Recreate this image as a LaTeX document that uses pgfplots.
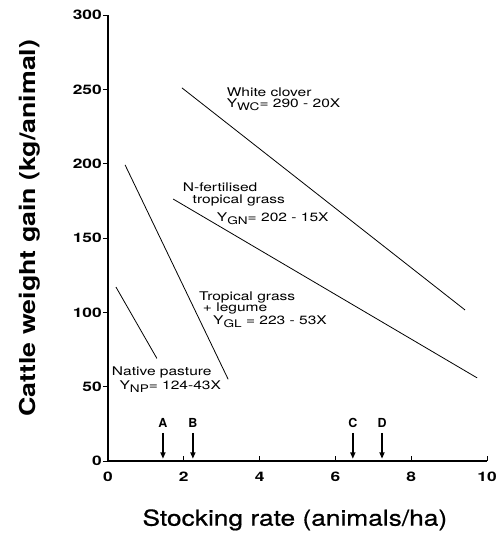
\documentclass[border=0pt]{standalone}
\usepackage{fontspec}
\setmainfont{TeX Gyre Heros}
\newfontfamily\tickfont[FakeStretch=1.32]{TeX Gyre Heros}
\newfontfamily\annfont[FakeStretch=1.3]{TeX Gyre Heros}
\newfontfamily\labfont[FakeStretch=1.22]{TeX Gyre Heros}
\newfontfamily\xlabfont[FakeStretch=1.2, FakeBold=0.7]{TeX Gyre Heros}
\usepackage{pgfplots}
\pgfplotsset{compat=1.18}
\usetikzlibrary{arrows.meta}

\newcommand{\sub}[1]{\raisebox{-3bp}{\fontsize{10.5}{10.5}\selectfont #1}}

\pgfplotsset{
  fitline/.style={black, no marks, line width=0.8bp},
  rate/.style={black, no marks, line width=1.6bp, -{Triangle[length=6.5bp,width=5bp]}},
}

\begin{document}
\begin{tikzpicture}
\useasboundingbox (-108bp,-76bp) rectangle (392bp,461bp);
\begin{axis}[
  scale only axis, width=379bp, height=446bp,
  xmin=0, xmax=10, ymin=0, ymax=300,
  axis x line=bottom, axis y line=left,
  axis line style={-, line width=1.1bp},
  xtick={0,2,...,10}, ytick={0,50,...,300},
  tick align=outside, major tick length=5bp,
  tick style={black, line width=0.9bp},
  xtick style={yshift=5bp},
  /pgf/number format/assume math mode=true,
  tick label style={font=\tickfont\bfseries\fontsize{13.2}{13.2}\selectfont},
  yticklabel style={inner sep=0pt, xshift=-1bp},
  xticklabel style={inner sep=0pt, yshift=-6bp},
  xlabel={\xlabfont\fontsize{22}{22}\selectfont Stocking rate (animals/ha)},
  ylabel={\labfont\bfseries\fontsize{22}{22}\selectfont Cattle weight gain (kg/animal)},
  xlabel style={at={(axis description cs:0.493,-0.132)}, anchor=center},
  ylabel style={at={(axis description cs:-0.206,0.522)}, anchor=center, rotate=0},
  clip=false,
]
% White clover
\addplot[fitline] coordinates {(1.95,251) (9.42,101.6)};
% N-fertilised tropical grass
\addplot[fitline] coordinates {(1.72,176.2) (9.74,55.9)};
% Tropical grass + legume
\addplot[fitline] coordinates {(0.45,199.2) (3.17,55.0)};
% Native pasture
\addplot[fitline] coordinates {(0.21,117) (1.29,69)};

% stocking rate arrows
\addplot[rate] coordinates {(1.45,19) (1.45,1.5)};
\addplot[rate] coordinates {(2.24,19) (2.24,1.5)};
\addplot[rate] coordinates {(6.46,19) (6.46,1.5)};
\addplot[rate] coordinates {(7.23,19) (7.23,1.5)};

\begin{scope}[every node/.style={font=\bfseries\fontsize{12.5}{12.5}\selectfont, inner sep=0pt}]
\node at (axis cs:1.45,25.5) {A};
\node at (axis cs:2.24,25.5) {B};
\node at (axis cs:6.46,25.5) {C};
\node at (axis cs:7.23,25.5) {D};
\end{scope}

\begin{scope}[every node/.style={font=\annfont\fontsize{12}{12}\selectfont, inner sep=0pt, anchor=base west}]
\node at (axis cs:3.13,245.2) {White clover};
\node at (axis cs:3.13,237.6) {Y\sub{WC}= 290 - 20X};
\node at (axis cs:1.97,181) {N-fertilised};
\node at (axis cs:2.23,173.3) {tropical grass};
\node at (axis cs:2.87,161) {Y\sub{GN}= 202 - 15X};
\node at (axis cs:2.40,107.8) {Tropical grass};
\node at (axis cs:2.50,100.4) {+ legume};
\node at (axis cs:2.77,91.5) {Y\sub{GL} = 223 - 53X};
\node at (axis cs:0.10,57.2) {Native pasture};
\node at (axis cs:0.30,48.4) {Y\sub{NP}= 124-43X};
\end{scope}
\end{axis}
\end{tikzpicture}
\end{document}
